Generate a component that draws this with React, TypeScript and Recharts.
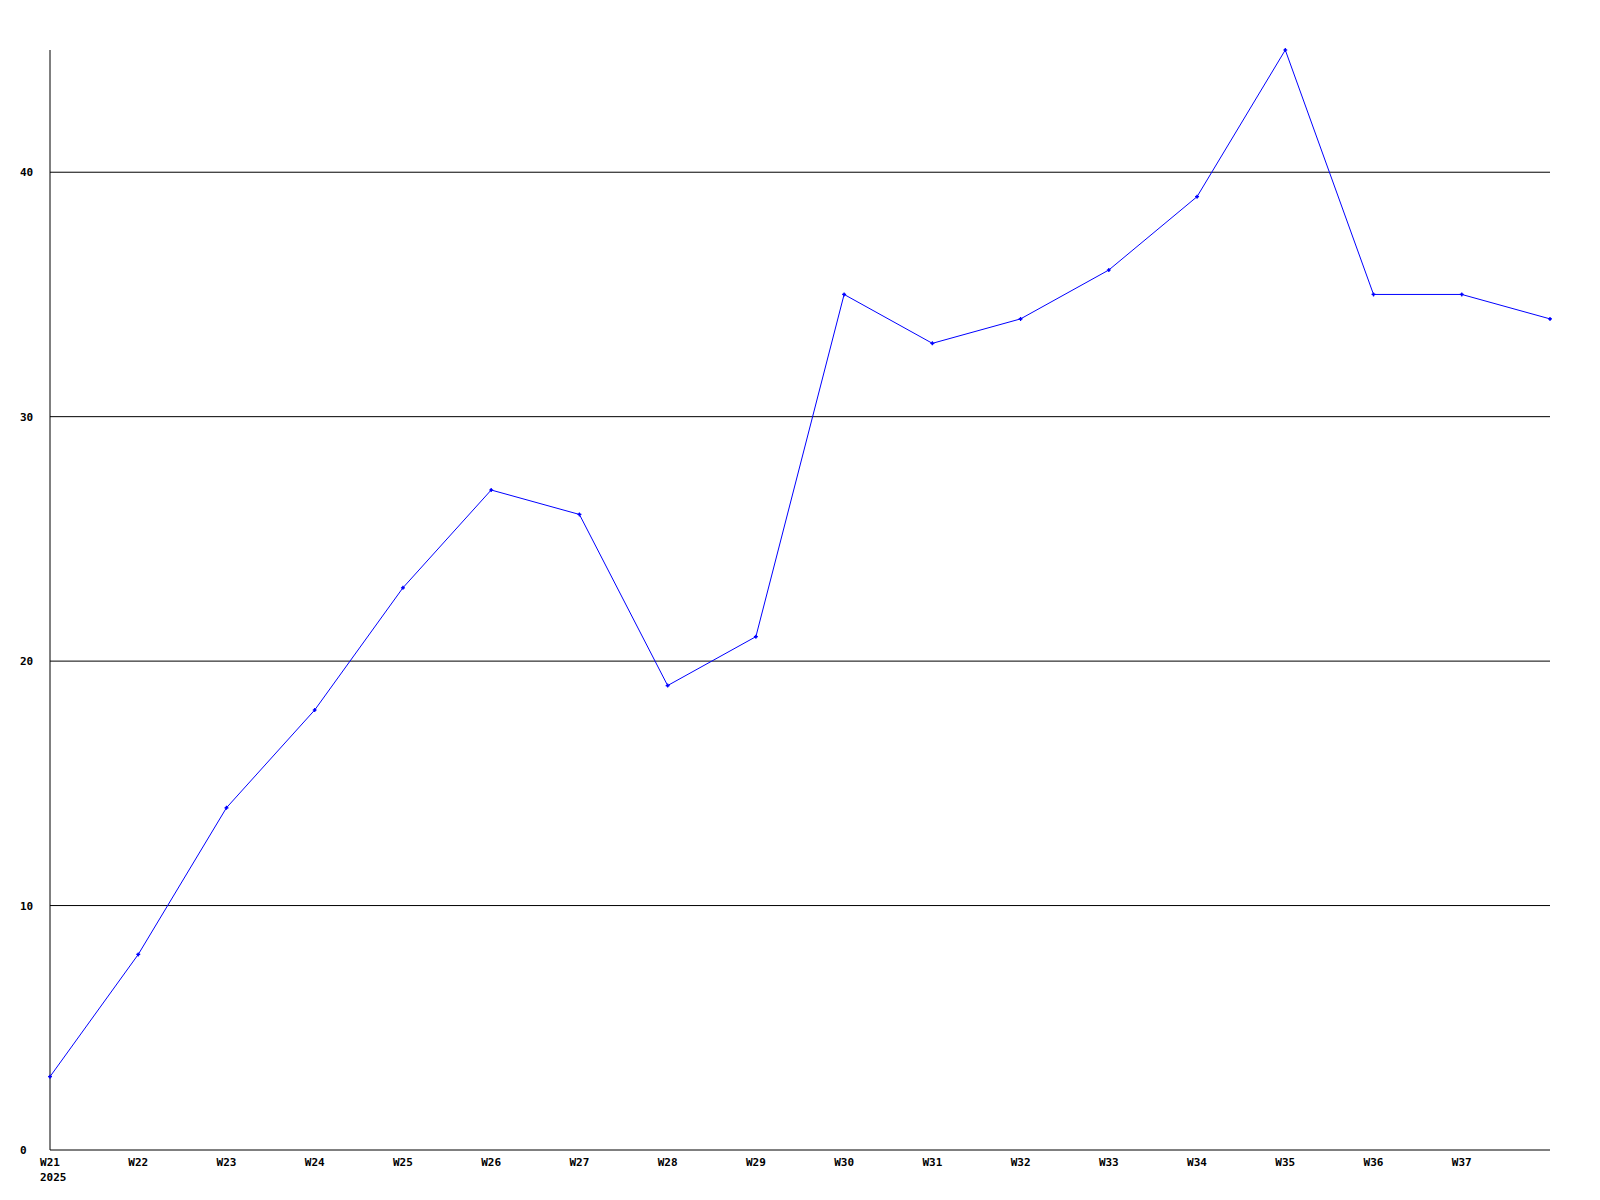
import React from "react";
import { Line, LineChart, ReferenceLine, XAxis, YAxis } from "recharts";

const weeks = [
  "W21", "W22", "W23", "W24", "W25", "W26", "W27", "W28", "W29",
  "W30", "W31", "W32", "W33", "W34", "W35", "W36", "W37", "W38",
];
const values = [3, 8, 14, 18, 23, 27, 26, 19, 21, 35, 33, 34, 36, 39, 45, 35, 35, 34];
const yTicks = [0, 10, 20, 30, 40];
const gridValues = [10, 20, 30, 40];
const yearLabel = "2025";

const data = weeks.map((w, i) => ({ week: w, value: values[i] }));

const font = "'DejaVu Sans Mono', monospace";

function XTick(props: any) {
  const { x, y, payload, index } = props;
  if (index === weeks.length - 1) return null;
  return (
    <g>
      <text x={x} y={y + 16} textAnchor="middle" fontFamily={font} fontSize={11} fontWeight="bold" fill="#000">
        {payload.value}
      </text>
      {index === 0 && (
        <text x={x - 10} y={y + 31} textAnchor="start" fontFamily={font} fontSize={11} fontWeight="bold" fill="#000">
          {yearLabel}
        </text>
      )}
    </g>
  );
}

function YTick(props: any) {
  const { x, y, payload } = props;
  return (
    <text x={x - 30} y={y + 4} textAnchor="start" fontFamily={font} fontSize={11} fontWeight="bold" fill="#000">
      {payload.value}
    </text>
  );
}

function StarDot(props: any) {
  const { cx, cy } = props;
  if (cx == null || cy == null) return null;
  return (
    <path
      d={`M${cx - 2},${cy} L${cx + 2},${cy} M${cx},${cy - 2} L${cx},${cy + 2} M${cx - 1},${cy - 1} L${cx + 1},${cy + 1} M${cx - 1},${cy + 1} L${cx + 1},${cy - 1}`}
      stroke="#0000ff"
      strokeWidth={1.2}
      fill="none"
    />
  );
}

export default function App() {
  return (
    <div style={{ position: "absolute", left: 0, top: 0, width: 1600, height: 1200, background: "#fff" }}>
      <LineChart width={1600} height={1200} data={data} margin={{ top: 50, right: 50, left: 0, bottom: 0 }}>
        {gridValues.map((v) => (
          <ReferenceLine key={v} y={v} stroke="#000" strokeWidth={1} />
        ))}
        <XAxis
          dataKey="week"
          height={50}
          tickLine={false}
          tickSize={0}
          tickMargin={0}
          interval={0}
          axisLine={{ stroke: "#000" }}
          tick={<XTick />}
        />
        <YAxis
          width={50}
          domain={[0, 45]}
          ticks={yTicks}
          tickLine={false}
          tickSize={0}
          tickMargin={0}
          axisLine={{ stroke: "#000" }}
          tick={<YTick />}
        />
        <Line
          type="linear"
          dataKey="value"
          stroke="#0000ff"
          strokeWidth={1}
          dot={<StarDot />}
          activeDot={false}
          isAnimationActive={false}
        />
      </LineChart>
    </div>
  );
}
